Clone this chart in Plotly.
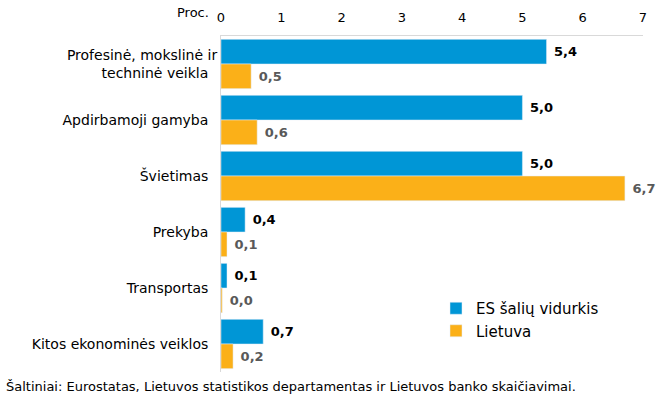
import plotly.graph_objects as go

categories = ["Profesinė, mokslinė ir<br>techninė veikla", "Apdirbamoji gamyba", "Švietimas",
              "Prekyba", "Transportas", "Kitos ekonominės veiklos"]
es_values = [5.4, 5.0, 5.0, 0.4, 0.1, 0.7]
lt_values = [0.5, 0.6, 6.7, 0.1, 0.02, 0.2]
es_name = "ES šalių vidurkis"
lt_name = "Lietuva"
tick_vals = [0, 1, 2, 3, 4, 5, 6, 7]

def fmt(v):
    return f"{v:.1f}".replace(".", ",")

font = "DejaVu Sans, Verdana, sans-serif"

fig = go.Figure()
fig.add_trace(go.Bar(
    y=categories, x=es_values, orientation="h", name=es_name,
    marker=dict(color="#0096d6"),
    text=[fmt(v) for v in es_values], texttemplate=" %{text}", textposition="outside",
    textfont=dict(family=font, size=13, color="#000000", weight="bold"),
    cliponaxis=False,
))
fig.add_trace(go.Bar(
    y=categories, x=lt_values, orientation="h", name=lt_name,
    marker=dict(color="#fbb018"),
    text=[fmt(v) for v in lt_values], texttemplate=" %{text}", textposition="outside",
    textfont=dict(family=font, size=13, color="#595959", weight="bold"),
    cliponaxis=False,
))

W, H = 670, 402
l, r, t, b = 221, 27, 36, 30
pw, ph = W - l - r, H - t - b
def px(xp):
    return (xp - l) / pw
def py(yp):
    return (H - b - yp) / ph

fig.update_layout(
    width=W, height=H,
    margin=dict(l=l, r=r, t=t, b=b),
    paper_bgcolor="white", plot_bgcolor="white",
    barmode="group", bargap=0.12, bargroupgap=0.0,
    font=dict(family=font, size=14, color="#000000"),
    showlegend=True,
    legend=dict(x=px(436), y=py(292), xanchor="left", yanchor="top",
                font=dict(size=15, color="#000000"), bgcolor="rgba(0,0,0,0)",
                itemwidth=30, tracegroupgap=2),
    xaxis=dict(side="top", range=[0, 7], tickvals=tick_vals,
               ticktext=[str(t) for t in tick_vals],
               showgrid=False, zeroline=False, automargin=False,
               showline=True, linecolor="#d9d9d9", linewidth=1,
               ticks="", ticklabelstandoff=8, tickfont=dict(size=13, color="#000000")),
    yaxis=dict(autorange="reversed", showgrid=False, showline=True, automargin=False,
               linecolor="#d9d9d9", linewidth=1, ticks="",
               ticksuffix="  ", tickfont=dict(size=14, color="#000000")),
    annotations=[
        dict(text="Proc.", x=px(211), y=py(12), xanchor="right", yanchor="middle",
             xref="paper", yref="paper", showarrow=False,
             font=dict(size=13, color="#000000")),
        dict(text="Šaltiniai: Eurostatas, Lietuvos statistikos departamentas ir Lietuvos banko skaičiavimai.",
             xref="paper", yref="paper", x=px(4), y=py(386), xanchor="left", yanchor="middle",
             showarrow=False, font=dict(size=13, color="#000000")),
    ],
)

fig.write_html("out.html")
